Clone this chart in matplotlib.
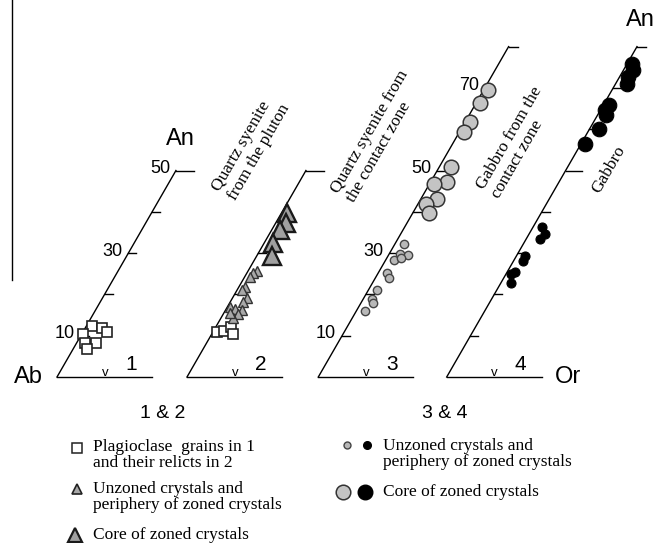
import numpy as np
import matplotlib.pyplot as plt

# An (%) and offset to the right of the An axis (same units) for every point
d1_sq_an = [12.3, 11.8, 10.8, 10.3, 8.3, 8.3, 6.7]
d1_sq_off = [1.5, 4.0, 5.8, 0.4, 2.0, 4.6, 3.3]

d2_sq_an = [10.9, 11.1, 12.1, 10.4]
d2_sq_off = [1.0, 2.5, 3.7, 5.1]

d2_tri_an = [25.7, 25.1, 24.1, 21.9, 21.1, 19.1, 18.2, 17.0, 16.4, 16.2, 15.3, 14.2, 15.4]
d2_tri_off = [2.2, 1.6, 1.4, 1.5, 1.1, 3.5, 3.1, 0.6, 2.2, 3.9, 3.6, 3.0, 1.5]

d2_big_an = [39.6, 37.2, 35.6, 32.5, 29.3]
d2_big_off = [1.5, 2.5, 2.0, 2.2, 3.6]

d3_small_an = [32.1, 29.9, 29.5, 28.4, 28.7, 25.2, 24.0, 21.0, 19.0, 17.8, 16.0]
d3_small_off = [2.3, 2.6, 4.8, 2.0, 3.4, 2.1, 3.3, 2.2, 2.1, 2.9, 2.1]

d3_big_an = [69.4, 66.3, 61.7, 59.3, 50.8, 47.2, 46.7, 43.2, 42.0, 39.6]
d3_big_off = [1.2, 0.9, 1.2, 1.1, 2.8, 4.0, 1.2, 3.9, 1.9, 3.9]

d4_small_an = [36.2, 34.7, 33.3, 29.2, 28.1, 25.4, 24.9, 22.8]
d4_small_off = [2.2, 3.8, 3.4, 2.1, 2.2, 1.9, 1.2, 2.4]

d4_big_an = [75.9, 74.3, 72.6, 71.0, 65.8, 64.6, 63.4, 60.1, 56.3]
d4_big_off = [1.1, 2.4, 2.1, 2.7, 1.5, 1.1, 2.1, 2.3, 1.0]

diagram_names = ["1", "2", "3", "4"]
diagram_top = [50, 50, 80, 80]
diagram_labels = [[10, 30, 50], [], [10, 30, 50, 70], []]
titles = ["Quartz syenite\nfrom the pluton",
          "Quartz syenite from\nthe contact zone",
          "Gabbro from the\ncontact zone",
          "Gabbro"]

# layout (pixels)
S = 4.13          # px per An unit
SKEW = 0.576      # tan(30)
BASE = 377
ORIG = [57, 187, 318.3, 446.7]
TITLE_POS = [(251, 148), (378, 136), (517, 142), (609, 170)]

SANS = "Liberation Sans"
SERIF = "Liberation Serif"


def to_xy(k, an, off):
    an = np.asarray(an, float)
    off = np.asarray(off, float)
    x = ORIG[k] + (an * SKEW + off) * S
    y = BASE - an * S
    return x, y


fig = plt.figure(figsize=(6.57, 5.43), dpi=100)
ax = fig.add_axes([0, 0, 1, 1])
ax.set_xlim(0, 657)
ax.set_ylim(543, 0)
ax.axis("off")

# stray vertical line on the left
ax.plot([12, 12], [0, 280], color="black", lw=1.0)

for k in range(4):
    top = diagram_top[k]
    x0, y0 = to_xy(k, 0, 0)
    xt, yt = to_xy(k, top, 0)
    ax.plot([x0, xt], [y0, yt], color="black", lw=1.0)
    ax.plot([x0, x0 + 95], [y0, y0], color="black", lw=1.0)
    cap = 18 if top == 50 else 9
    ax.plot([xt, xt + cap], [yt, yt], color="black", lw=1.0)
    for t in range(10, top, 10):
        tx, ty = to_xy(k, t, 0)
        ln = 16 if (k == 3 and t == 50) else 8
        ax.plot([tx, tx + ln], [ty, ty], color="black", lw=1.0)
    for t in diagram_labels[k]:
        tx, ty = to_xy(k, t, 0)
        ax.text(tx - 6, ty - 2, str(t), ha="right", va="center",
                fontsize=13, family=SANS)
    ax.text(x0 + 48, y0 - 4, "v", ha="center", va="center",
            fontsize=9.5, family=SANS)
    ax.text(x0 + 74, y0 - 13, diagram_names[k], ha="center", va="center",
            fontsize=15, family=SANS)
    ax.text(TITLE_POS[k][0], TITLE_POS[k][1], titles[k], rotation=60,
            rotation_mode="anchor", ha="center", va="center",
            multialignment="left", fontsize=12.5, family=SERIF,
            linespacing=1.15)

ax.text(28, 377, "Ab", ha="center", va="center", fontsize=17, family=SANS)
ax.text(180, 139, "An", ha="center", va="center", fontsize=17, family=SANS)
ax.text(640, 20, "An", ha="center", va="center", fontsize=17, family=SANS)
ax.text(568, 377, "Or", ha="center", va="center", fontsize=17, family=SANS)

# data points
x, y = to_xy(0, d1_sq_an, d1_sq_off)
ax.plot(x, y, ls="none", marker="s", ms=7.5, mfc="white", mec="#222222", mew=1.2)
x, y = to_xy(1, d2_sq_an, d2_sq_off)
ax.plot(x, y, ls="none", marker="s", ms=7.5, mfc="white", mec="#222222", mew=1.2)
x, y = to_xy(1, d2_tri_an, d2_tri_off)
ax.plot(x, y, ls="none", marker="^", ms=7.5, mfc="#a8a8a8", mec="#333333", mew=1.0)
x, y = to_xy(1, d2_big_an, d2_big_off)
ax.plot(x, y, ls="none", marker="^", ms=13, mfc="#a0a0a0", mec="#1a1a1a", mew=1.7)
x, y = to_xy(2, d3_small_an, d3_small_off)
ax.plot(x, y, ls="none", marker="o", ms=6, mfc="#b8b8b8", mec="#444444", mew=1.0)
x, y = to_xy(2, d3_big_an, d3_big_off)
ax.plot(x, y, ls="none", marker="o", ms=10.5, mfc="#c4c4c4", mec="#333333", mew=1.1)
x, y = to_xy(3, d4_small_an, d4_small_off)
ax.plot(x, y, ls="none", marker="o", ms=6.5, mfc="black", mec="black", mew=0.8)
x, y = to_xy(3, d4_big_an, d4_big_off)
ax.plot(x, y, ls="none", marker="o", ms=10.5, mfc="black", mec="black", mew=0.8)

# legend
ax.text(163, 413, "1 & 2", ha="center", va="center", fontsize=14, family=SANS)
ax.text(445, 413, "3 & 4", ha="center", va="center", fontsize=14, family=SANS)

ax.plot([77], [448], ls="none", marker="s", ms=6.5, mfc="white", mec="#222222", mew=1.1)
ax.text(93, 455, "Plagioclase  grains in 1\nand their relicts in 2", ha="left",
        va="center", fontsize=12.5, family=SERIF, linespacing=1.0)
ax.plot([77], [489], ls="none", marker="^", ms=6.5, mfc="#a8a8a8", mec="#222222", mew=1.2)
ax.text(93, 497, "Unzoned crystals and\nperiphery of zoned crystals", ha="left",
        va="center", fontsize=12.5, family=SERIF, linespacing=1.0)
ax.plot([75], [535], ls="none", marker="^", ms=10, mfc="#a0a0a0", mec="#1a1a1a", mew=1.6)
ax.text(93, 535, "Core of zoned crystals", ha="left", va="center",
        fontsize=12.5, family=SERIF)

ax.plot([347], [445], ls="none", marker="o", ms=5, mfc="#b8b8b8", mec="#444444", mew=1.0)
ax.plot([367], [445], ls="none", marker="o", ms=5.5, mfc="black", mec="black")
ax.text(383, 454, "Unzoned crystals and\nperiphery of zoned crystals", ha="left",
        va="center", fontsize=12.5, family=SERIF, linespacing=1.0)
ax.plot([343], [492], ls="none", marker="o", ms=10.5, mfc="#c4c4c4", mec="#333333", mew=1.1)
ax.plot([365], [492], ls="none", marker="o", ms=10.5, mfc="black", mec="black")
ax.text(383, 492, "Core of zoned crystals", ha="left", va="center",
        fontsize=12.5, family=SERIF)

fig.savefig("out.png", dpi=100)
